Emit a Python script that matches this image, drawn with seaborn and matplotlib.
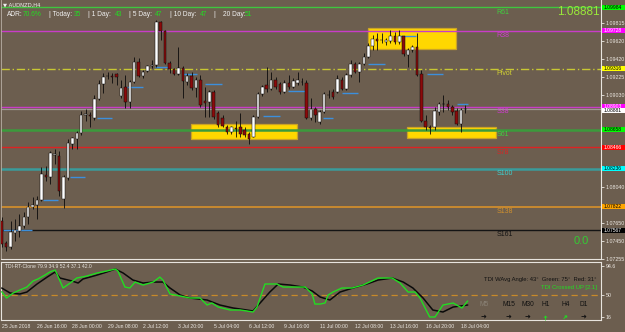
import numpy as np
import pandas as pd
import matplotlib
matplotlib.use("Agg")
import matplotlib.pyplot as plt
import matplotlib.transforms as mtrans
from matplotlib.patches import Rectangle
import seaborn as sns

sns.set_style("white")
plt.rcParams['font.family'] = ['Liberation Sans', 'DejaVu Sans']

BG = "#6c5e4f"

# ---------------- data ----------------
tick_labels_x = ["25 Jun 2018", "26 Jun 16:00", "28 Jun 00:00", "29 Jun 08:00", "2 Jul 12:00",
                 "3 Jul 20:00", "5 Jul 04:00", "6 Jul 12:00", "9 Jul 16:00", "11 Jul 00:00",
                 "12 Jul 08:00", "13 Jul 16:00", "16 Jul 20:00", "18 Jul 04:00"]

opens = [1.07665, 1.07428, 1.07385, 1.07536, 1.07557, 1.07611, 1.07709, 1.07817, 1.07838, 1.07892,
         1.08162, 1.08141, 1.08378, 1.08367, 1.07903, 1.08130, 1.08497, 1.08551, 1.08616, 1.08821,
         1.08821, 1.08789, 1.08994, 1.09156, 1.09242, 1.09242, 1.09264, 1.09026, 1.09123, 1.08961,
         1.09177, 1.09393, 1.09242, 1.09296, 1.09350, 1.09361, 1.09825, 1.09728, 1.09383, 1.09318,
         1.09264, 1.09329, 1.09177, 1.09242, 1.09113, 1.09199, 1.08972, 1.08961, 1.09069, 1.08843,
         1.08789, 1.08691, 1.08627, 1.08670, 1.08681, 1.08659, 1.08605, 1.08583, 1.08799, 1.09048,
         1.09145, 1.09102, 1.09199, 1.09156, 1.09069, 1.09167, 1.09123, 1.09167, 1.09177, 1.09167,
         1.08789, 1.08886, 1.08745, 1.08853, 1.09037, 1.09069, 1.09069, 1.09199, 1.09102, 1.09253,
         1.09372, 1.09285, 1.09372, 1.09447, 1.09566, 1.09642, 1.09631, 1.09609, 1.09620, 1.09674,
         1.09609, 1.09674, 1.09469, 1.09523, 1.09555, 1.09264, 1.08756, 1.08681, 1.08681, 1.08853,
         1.08940, 1.08940, 1.08907, 1.08864, 1.08724, 1.08886]
highs = [1.07709, 1.07449, 1.07665, 1.07687, 1.07741, 1.07763, 1.07871, 1.07925, 1.07935, 1.08249,
         1.08259, 1.08421, 1.08443, 1.08421, 1.08162, 1.08551, 1.08583, 1.08648, 1.08864, 1.08886,
         1.08853, 1.09037, 1.09199, 1.09275, 1.09285, 1.09275, 1.09275, 1.09199, 1.09253, 1.09199,
         1.09447, 1.09437, 1.09307, 1.09361, 1.09415, 1.09847, 1.09836, 1.09739, 1.09404, 1.09329,
         1.09555, 1.09350, 1.09275, 1.09285, 1.09231, 1.09253, 1.09123, 1.09091, 1.09091, 1.08864,
         1.08821, 1.08713, 1.08702, 1.08756, 1.08843, 1.08681, 1.08627, 1.08821, 1.09069, 1.09145,
         1.09339, 1.09285, 1.09231, 1.09177, 1.09199, 1.09253, 1.09221, 1.09285, 1.09221, 1.09199,
         1.09005, 1.08907, 1.08875, 1.09069, 1.09091, 1.09102, 1.09253, 1.09231, 1.09275, 1.09415,
         1.09393, 1.09393, 1.09491, 1.09599, 1.09685, 1.09707, 1.09707, 1.09653, 1.09739, 1.09717,
         1.09739, 1.09674, 1.09545, 1.09577, 1.09707, 1.09307, 1.08821, 1.08713, 1.08907, 1.08961,
         1.09037, 1.08983, 1.08929, 1.08897, 1.08897, 1.08929]
lows = [1.07385, 1.07341, 1.07363, 1.07449, 1.07493, 1.07590, 1.07633, 1.07795, 1.07687, 1.07881,
        1.08097, 1.08065, 1.08281, 1.07935, 1.07806, 1.08108, 1.08443, 1.08443, 1.08594, 1.08756,
        1.08691, 1.08767, 1.08983, 1.09059, 1.09210, 1.09167, 1.09145, 1.09005, 1.08897, 1.08897,
        1.09167, 1.09231, 1.09221, 1.09285, 1.09329, 1.09339, 1.09631, 1.09372, 1.09275, 1.09253,
        1.09253, 1.09005, 1.09145, 1.09091, 1.09015, 1.08907, 1.08799, 1.08799, 1.08778, 1.08691,
        1.08681, 1.08605, 1.08605, 1.08583, 1.08573, 1.08573, 1.08497, 1.08573, 1.08789, 1.09026,
        1.09069, 1.09091, 1.09102, 1.09048, 1.09059, 1.09102, 1.09113, 1.09145, 1.09145, 1.08778,
        1.08767, 1.08745, 1.08724, 1.08843, 1.09005, 1.08994, 1.09059, 1.09091, 1.09091, 1.09231,
        1.09275, 1.09177, 1.09361, 1.09437, 1.09523, 1.09523, 1.09599, 1.09577, 1.09599, 1.09588,
        1.09588, 1.09458, 1.09339, 1.09501, 1.09242, 1.08735, 1.08659, 1.08605, 1.08659, 1.08821,
        1.08853, 1.08875, 1.08821, 1.08713, 1.08627, 1.08843]
closes = [1.07417, 1.07385, 1.07547, 1.07568, 1.07611, 1.07709, 1.07817, 1.07838, 1.07892, 1.08173,
          1.08141, 1.08400, 1.08389, 1.07989, 1.08141, 1.08508, 1.08562, 1.08616, 1.08821, 1.08832,
          1.08810, 1.08994, 1.09156, 1.09231, 1.09237, 1.09231, 1.09231, 1.09113, 1.08961, 1.09177,
          1.09393, 1.09242, 1.09285, 1.09350, 1.09356, 1.09825, 1.09728, 1.09383, 1.09318, 1.09264,
          1.09329, 1.09188, 1.09242, 1.09113, 1.09199, 1.08929, 1.08951, 1.09069, 1.08799, 1.08713,
          1.08702, 1.08627, 1.08681, 1.08664, 1.08605, 1.08594, 1.08551, 1.08799, 1.09048, 1.09123,
          1.09102, 1.09199, 1.09123, 1.09069, 1.09167, 1.09123, 1.09188, 1.09199, 1.09172, 1.08789,
          1.08886, 1.08821, 1.08853, 1.09048, 1.09032, 1.09015, 1.09210, 1.09102, 1.09253, 1.09372,
          1.09285, 1.09372, 1.09447, 1.09566, 1.09642, 1.09620, 1.09626, 1.09631, 1.09674, 1.09609,
          1.09674, 1.09480, 1.09523, 1.09555, 1.09253, 1.08756, 1.08681, 1.08675, 1.08864, 1.08940,
          1.08934, 1.08907, 1.08853, 1.08724, 1.08875, 1.08881]

# daily open segments (bar index start/end, price)
seg_start = [0.3, 9.4, 15.5, 21.6, 28.4, 34.7, 41.0, 46.0, 59.2, 64.8, 72.7, 77.0, 82.9, 90.2, 96.3, 103.1]
seg_end = [6.9, 12.7, 18.9, 25.0, 32.0, 37.7, 44.2, 49.9, 63.0, 68.7, 75.0, 80.7, 86.8, 93.8, 99.9, 105.6]
seg_price = [1.07568, 1.07893, 1.08141, 1.08789, 1.09124, 1.09340, 1.09264, 1.09156, 1.08800, 1.09081,
             1.08789, 1.09059, 1.09372, 1.09675, 1.09264, 1.08940]

# pivot levels
level_names = ["R61", "R38", "Pivot", "S38", "S61", "S78", "S100", "S138", "S161"]
level_prices = [1.09984, 1.09728, 1.09316, 1.08903, 1.08658, 1.08466, 1.08236, 1.07822, 1.07567]
level_colors = ["#3fc63f", "#c83cc8", "#c8c832", "#c83cc8", "#3c9a3c", "#dd2222", "#3a9c9c", "#c88a30", "#141414"]
level_text_colors = ["#3fd03f", "#d03cd0", "#d2d232", "#d03cd0", "#3fd03f", "#dd2222", "#40d0d0", "#d0902e", "#141414"]
level_box_colors = ["#00ff00", "#ff00ff", "#ffff00", "#ff00ff", "#00ff00", "#ff0000", "#00ffff", "#ffa500", "#000000"]
level_box_text = ["#000000", "#ffffff", "#000000", "#ffffff", "#000000", "#ffffff", "#000000", "#000000", "#ffffff"]
level_box_shift = [0, 0, 0, 0.8, 0, 0, 0, 0, 0]   # label nudges in pixels (up +)
current_price = 1.08881

# zones (bar index from/to, price low/high)
zone_x0 = [42.9, 82.9, 91.8]
zone_x1 = [66.9, 102.9, 111.9]
zone_lo = [1.08551, 1.09534, 1.08562]
zone_hi = [1.08724, 1.09761, 1.08681]

price_ticks = [1.09815, 1.09620, 1.09420, 1.09225, 1.09030, 1.08040, 1.07650, 1.07450, 1.07255]

# TDI lines
green_k = [0, 1.1, 2.6, 4.1, 5.7, 7.1, 8.2, 9.8, 10.9, 12.1, 13.9, 15.5, 17.0, 19.3, 21.6, 23.8, 25.7, 26.3,
           27.9, 29.0, 30.2, 32.0, 34.3, 35.8, 36.5, 38.1, 40.4, 42.6, 44.9, 46.5, 47.6, 49.0, 51.7, 54.0,
           55.5, 56.9, 57.8, 59.6, 62.3, 63.7, 66.0, 68.7, 70.3, 70.9, 72.1, 73.2, 73.9, 75.0, 77.0, 79.3,
           81.8, 85.2, 88.4, 90.2, 92.0, 93.6, 94.7, 96.9, 98.1, 99.9, 102.2, 104.2, 105.5]
green_v = [55.0, 45.3, 53.0, 57.6, 62.2, 71.5, 74.6, 80.7, 85.4, 88.4, 60.7, 68.4, 76.1, 79.2, 83.8, 86.9, 90.0, 86.9,
           62.2, 60.7, 69.9, 65.3, 69.9, 77.6, 73.0, 51.5, 48.4, 45.3, 45.3, 34.5, 37.6, 31.4, 26.8, 26.8,
           25.3, 23.7, 31.4, 66.9, 66.9, 62.2, 62.2, 62.2, 51.5, 36.0, 36.0, 37.6, 49.9, 54.5, 60.7, 60.7,
           65.3, 76.1, 76.1, 68.4, 54.5, 54.5, 45.3, 16.0, 16.0, 34.5, 37.6, 29.9, 40.7]
black_k = [0, 1.9, 4.1, 5.7, 8.0, 10.3, 12.1, 13.2, 15.9, 17.3, 18.4, 21.6, 23.8, 25.7, 27.5, 29.7, 32.0, 34.3,
           36.5, 38.1, 40.4, 42.6, 46.5, 49.4, 52.4, 55.5, 56.9, 58.5, 60.7, 62.6, 65.3, 68.2, 70.3, 72.1,
           74.3, 76.6, 79.5, 82.7, 85.2, 88.4, 90.9, 93.1, 95.4, 97.6, 99.9, 102.2, 105.5]
black_v = [60.7, 53.0, 51.5, 54.5, 66.9, 77.6, 85.4, 76.1, 71.5, 68.4, 74.6, 80.7, 85.4, 90.0, 83.8, 73.0, 68.4, 69.9,
           69.9, 60.7, 49.9, 45.3, 42.2, 34.5, 29.9, 26.8, 25.3, 37.6, 54.5, 66.9, 65.3, 62.2, 56.1, 46.8,
           42.2, 54.5, 60.7, 66.9, 73.0, 76.1, 69.9, 60.7, 45.3, 26.8, 23.7, 31.4, 34.5]

# ---------------- figure ----------------
W, H = 625, 332
fig = plt.figure(figsize=(W / 100, H / 100), dpi=100)
fig.patch.set_facecolor(BG)

XL = (-0.16, 135.68)
ax = fig.add_axes([1 / W, (H - 259) / H, 600 / W, 259 / H])
ax2 = fig.add_axes([1 / W, (H - 320) / H, 600 / W, 58 / H])
for a in (ax, ax2):
    a.set_facecolor(BG)
    a.set_xlim(*XL)
    for s in a.spines.values():
        s.set_color("#e8e4de")
        s.set_linewidth(0.8)
ax.set_ylim(1.07266, 1.10063)
ax.spines['top'].set_visible(False)
ax.spines['left'].set_color("#b8afa4")
ax.spines['left'].set_linewidth(0.6)

n = len(opens)
k = np.arange(n)
o = np.array(opens); c = np.array(closes); hi = np.array(highs); lo = np.array(lows)

# zones
for x0, x1, y0, y1 in zip(zone_x0, zone_x1, zone_lo, zone_hi):
    ax.add_patch(Rectangle((x0, y0), x1 - x0, y1 - y0, facecolor="#ffd700", edgecolor="#c9a227",
                           lw=0.9, zorder=1))

# levels
for name, p, col, tcol in zip(level_names, level_prices, level_colors, level_text_colors):
    lw = 1.0
    ls = '-'
    if name in ("S61", "S100"):
        lw = 1.8
    if name == "S138":
        lw = 1.4
    if name == "Pivot":
        ls = (0, (6, 2, 1, 2))
    ax.axhline(p, color=col, lw=lw, ls=ls, zorder=2)
    ax.annotate(name, (112.1, p), xytext=(0, -0.9), textcoords='offset points',
                color=tcol, fontsize=5, ha='left', va='top', zorder=6)
ax.axhline(current_price, color="#a09a94", lw=0.9, zorder=2)

# daily open segments
ax.hlines(seg_price, seg_start, seg_end, color="#3c8fdc", lw=1.0, zorder=3)

# candles
ax.vlines(k, lo, hi, color="#0a0a0a", lw=0.6, zorder=4)
bull = c >= o
body_lo = np.minimum(o, c)
body_h = np.maximum(np.abs(c - o), 0.00003)
ax.bar(k[bull], body_h[bull], bottom=body_lo[bull], width=0.58, color="#ffffff",
       edgecolor="#0a0a0a", lw=0.35, zorder=5)
ax.bar(k[~bull], body_h[~bull], bottom=body_lo[~bull], width=0.58, color="#8c0a0a",
       edgecolor="#0a0a0a", lw=0.35, zorder=5)

# right price axis
ax.yaxis.tick_right()
ax.set_yticks(price_ticks)
ax.set_yticklabels([f"{t:.5f}" for t in price_ticks])
ax.tick_params(axis='y', labelsize=3.8, colors="#ece8e2", length=2, width=0.6, pad=1.2)
ax.set_xticks([])

trans = mtrans.blended_transform_factory(ax.transAxes, ax.transData)
half = 0.00027
px = 0.000108
boxes = list(zip(level_prices, level_box_colors, level_box_text, level_box_shift)) + \
    [(current_price, "#ffffff", "#000000", -1.9)]
for p, bc, tc, sh in boxes:
    yc = p + sh * px
    ax.add_patch(Rectangle((1 + 1 / 600, yc - half), 24 / 600, 2 * half, transform=trans,
                           facecolor=bc, edgecolor='none', clip_on=False, zorder=8))
    ax.text(1 + 3 / 600, yc, f"{p:.5f}", transform=trans, fontsize=3.6, color=tc,
            ha='left', va='center', clip_on=False, zorder=9)

# ---------------- TDI panel ----------------
ax2.set_ylim(11.4, 100.8)
ax2.axhline(50, color="#c88a2a", lw=0.9, ls=(0, (5, 3)), zorder=1)
dfg = pd.DataFrame({"bar": green_k, "value": green_v})
dfb = pd.DataFrame({"bar": black_k, "value": black_v})
sns.lineplot(data=dfb, x="bar", y="value", ax=ax2, color="#0a0a0a", lw=1.1, estimator=None, zorder=3)
sns.lineplot(data=dfg, x="bar", y="value", ax=ax2, color="#22dd22", lw=1.0, estimator=None, zorder=4)
ax2.set_xlabel(""); ax2.set_ylabel("")
ax2.yaxis.tick_right()
ax2.set_yticks([94.6, 50, 16])
ax2.set_yticklabels(["94.6", "50", "16"])
ax2.tick_params(axis='y', labelsize=3.8, colors="#ece8e2", length=2, width=0.6, pad=1.2)
ax2.set_xticks(np.arange(0, 105, 8))
ax2.set_xticklabels(tick_labels_x, ha='left')
ax2.tick_params(axis='x', labelsize=3.7, colors="#ece8e2", length=2, width=0.6, pad=1.2)
ax2.set_xlim(*XL)

# ---------------- texts ----------------
def ft(x, y, s, **kw):
    fig.text(x / W, 1 - y / H, s, va='center', **kw)

ft(3, 4.5, "▼ AUDNZD,H4", fontsize=3.8, color="#f0f0f0", family=['DejaVu Sans'])
hdr = [(7, "ADR:", "#f0f0f0"), (23, "70.6%", "#22dd22"), (49, "| Today:", "#f0f0f0"), (74, "35", "#22dd22"),
       (88, "| 1 Day:", "#f0f0f0"), (115, "43", "#22dd22"), (129, "| 5 Day:", "#f0f0f0"), (155, "47", "#22dd22"),
       (170, "| 10 Day:", "#f0f0f0"), (200, "47", "#22dd22"), (213, "|", "#f0f0f0"), (223, "20 Day:", "#f0f0f0"),
       (245, "51", "#22dd22")]
for x, s, col in hdr:
    ft(x, 14, s, fontsize=4.8, color=col)
ft(600, 12, "1.08881", fontsize=8.5, color="#9ae83a", ha='right')
ft(574, 241, "0.0", fontsize=8, color="#33cc33")

ft(5, 267, "TDI-RT-Clone 79.9 34.9 52.4 37.1 42.0", fontsize=3.6, color="#e8e4de")
ft(597, 280, "TDI WAvg Angle: 43°  Green: 75°  Red: 31°", fontsize=4.2, color="#111111", ha='right')
ft(597, 288, "TDI Crossed UP [2.1]", fontsize=4.2, color="#22dd22", ha='right')
tf_names = ["M5", "M15", "M30", "H1", "H4", "D1"]
tf_x = [484, 509, 528, 546, 566, 584]
tf_col = ["#8a8276", "#111111", "#111111", "#111111", "#111111", "#111111"]
arrow_rot = [0, 0, 0, 90, 45, 0]
arrow_col = ["#111111", "#111111", "#111111", "#22dd22", "#22dd22", "#111111"]
for name, x, col, rot, acol in zip(tf_names, tf_x, tf_col, arrow_rot, arrow_col):
    ft(x, 305, name, fontsize=4.8, color=col, ha='center')
    ft(x, 317, "➜", fontsize=5, color=acol, ha='center', rotation=rot, family=['DejaVu Sans'])

fig.savefig("out.png", dpi=100, facecolor=BG)
